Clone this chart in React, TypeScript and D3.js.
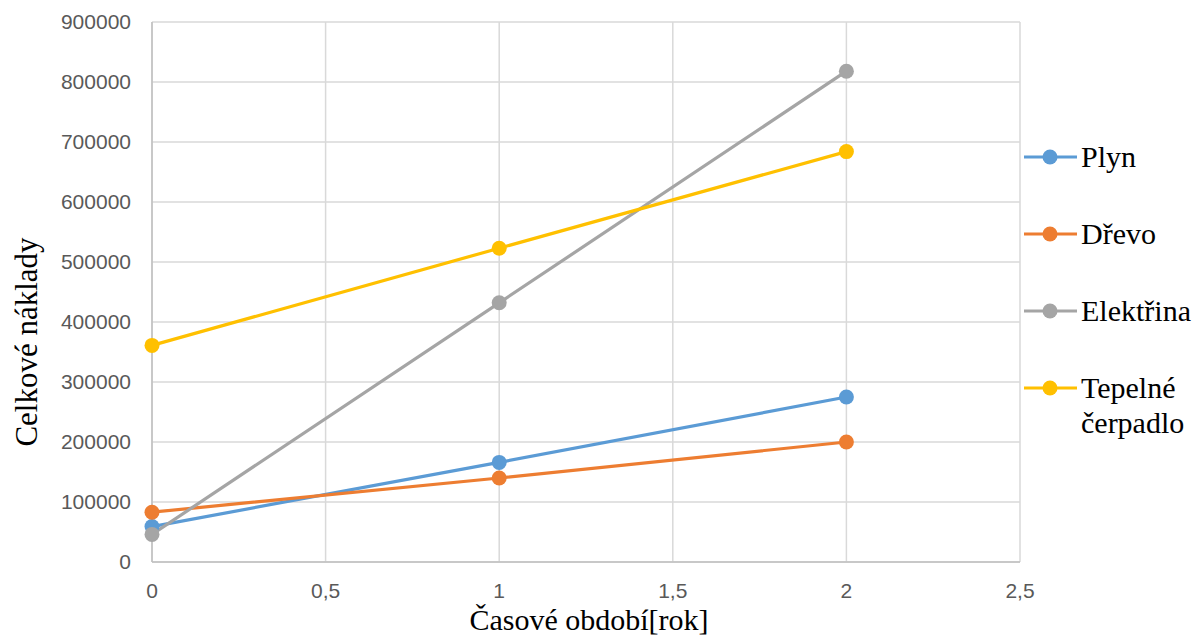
import React from "react";
import * as d3 from "d3";

const xValues = [0, 1, 2];
const seriesNames = ["Plyn", "Dřevo", "Elektřina", "Tepelné čerpadlo"];
const plyn = [59000, 166000, 275000];
const drevo = [83000, 140000, 200000];
const elektrina = [46000, 432000, 818000];
const tepelne = [361000, 523000, 684000];
const colors = ["#5B9BD5", "#ED7D31", "#A5A5A5", "#FFC000"];
const xTicks = [0, 0.5, 1, 1.5, 2, 2.5];
const yTicks = [0, 100000, 200000, 300000, 400000, 500000, 600000, 700000, 800000, 900000];

const W = 1202, H = 636;
const left = 152, right = 1020, top = 22, bottom = 562;
const SERIF = "'Liberation Serif', 'Times New Roman', serif";
const SANS = "'Liberation Sans', Arial, sans-serif";

export default function App() {
  const x = d3.scaleLinear().domain([0, 2.5]).range([left, right]);
  const y = d3.scaleLinear().domain([0, 900000]).range([bottom, top]);
  const all = [plyn, drevo, elektrina, tepelne];
  const line = d3.line<number>().x((_, i) => x(xValues[i])).y((d) => y(d));
  const fmtX = (v: number) => String(v).replace(".", ",");
  const legendY = [157, 234, 311, 388];
  return (
    <svg width={W} height={H} style={{ position: "absolute", left: 0, top: 0, background: "#fff" }}>
      {yTicks.map((t) => (
        <line key={"gy" + t} x1={left} x2={right} y1={y(t)} y2={y(t)} stroke="#d9d9d9" strokeWidth={1.5} />
      ))}
      {xTicks.map((t) => (
        <line key={"gx" + t} x1={x(t)} x2={x(t)} y1={top} y2={bottom} stroke="#d9d9d9" strokeWidth={1.5} />
      ))}
      <line x1={left} x2={left} y1={top} y2={bottom} stroke="#bfbfbf" strokeWidth={1.5} />
      <line x1={left} x2={right} y1={bottom} y2={bottom} stroke="#bfbfbf" strokeWidth={1.5} />
      {yTicks.map((t) => (
        <text key={"ty" + t} x={131} y={y(t)} dy="0.35em" textAnchor="end" style={{ fontFamily: SANS }} fontSize={21} fill="#595959">
          {t}
        </text>
      ))}
      {xTicks.map((t) => (
        <text key={"tx" + t} x={x(t)} y={598} textAnchor="middle" style={{ fontFamily: SANS }} fontSize={21} fill="#595959">
          {fmtX(t)}
        </text>
      ))}
      <text x={589} y={630} textAnchor="middle" style={{ fontFamily: SERIF }} fontSize={30} fill="#000">
        Časové období[rok]
      </text>
      <text transform={`translate(37, 342) rotate(-90)`} textAnchor="middle" style={{ fontFamily: SERIF }} fontSize={31} fill="#000">
        Celkové náklady
      </text>
      {all.map((s, i) => (
        <g key={"s" + i}>
          <path d={line(s) || ""} fill="none" stroke={colors[i]} strokeWidth={3.2} strokeLinejoin="round" />
        </g>
      ))}
      {all.map((s, i) => (
        <g key={"m" + i}>
          {s.map((v, j) => (
            <circle key={j} cx={x(xValues[j])} cy={y(v)} r={7.5} fill={colors[i]} />
          ))}
        </g>
      ))}
      {seriesNames.map((n, i) => (
        <g key={"l" + i}>
          <line x1={1024} x2={1077} y1={legendY[i]} y2={legendY[i]} stroke={colors[i]} strokeWidth={3.2} />
          <circle cx={1050} cy={legendY[i]} r={7.5} fill={colors[i]} />
          {i < 3 ? (
            <text x={1081} y={legendY[i]} dy="0.33em" style={{ fontFamily: SERIF }} fontSize={30} fill="#000">
              {n}
            </text>
          ) : (
            <text x={1081} y={legendY[i]} dy="0.33em" style={{ fontFamily: SERIF }} fontSize={30} fill="#000">
              <tspan x={1081}>Tepelné</tspan>
              <tspan x={1081} dy="1.17em">čerpadlo</tspan>
            </text>
          )}
        </g>
      ))}
    </svg>
  );
}
